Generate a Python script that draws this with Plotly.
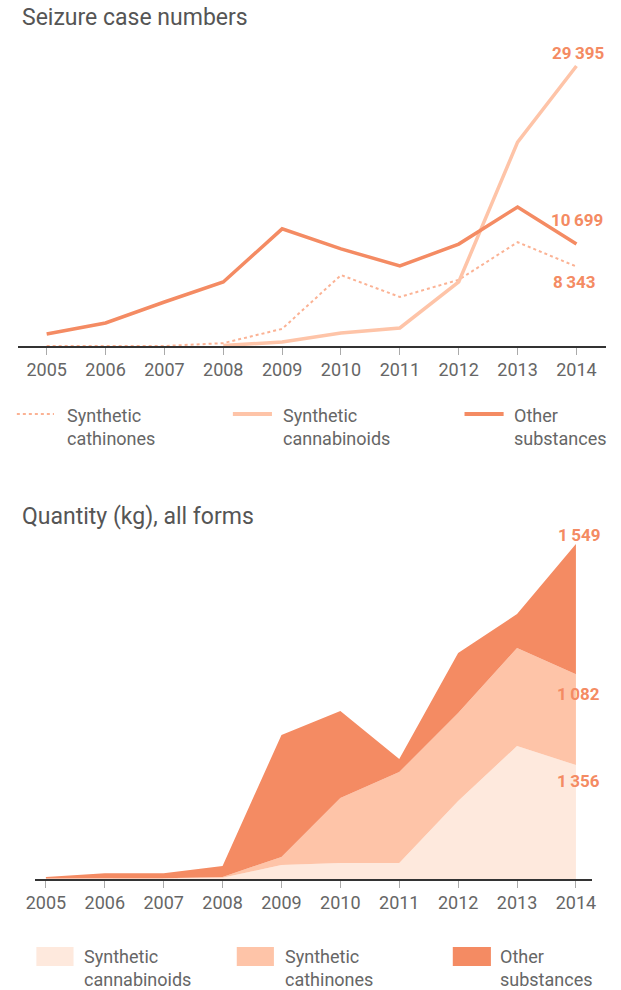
import plotly.graph_objects as go

years = [2005, 2006, 2007, 2008, 2009, 2010, 2011, 2012, 2013, 2014]

# Seizure case numbers
cases_cathinones = [0, 0, 0, 300, 1800, 7450, 5150, 6950, 10900, 8343]
cases_cannabinoids = [None, None, None, 50, 420, 1370, 1890, 6720, 21400, 29395]
cases_other = [1260, 2420, 4620, 6720, 12300, 10200, 8400, 10700, 14600, 10699]

# Quantity (kg)
qty_cannabinoids = [3, 5, 5, 15, 167, 190, 190, 928, 1583, 1356]
qty_cathinones = [2, 3, 3, 10, 95, 774, 1083, 1047, 1166, 1082]
qty_other = [20, 60, 60, 130, 1452, 1036, 155, 714, 405, 1549]

C_OTHER = "#F48B63"
C_CATH_LINE = "#FBB294"
C_CANN_LINE = "#FEC4A8"
C_LIGHT = "#FEE9DD"
C_MID = "#FEC4A8"
FONT = "Roboto"
W, H = 621, 990


def px_x(v):
    return v / W


def px_y(v):
    return 1 - v / H


fig = go.Figure()

# Top chart lines
fig.add_trace(go.Scatter(x=years, y=cases_cathinones, mode="lines",
                         line=dict(color=C_CATH_LINE, width=2, dash="dot"),
                         xaxis="x", yaxis="y", showlegend=False, hoverinfo="skip"))
fig.add_trace(go.Scatter(x=years, y=cases_cannabinoids, mode="lines",
                         line=dict(color=C_CANN_LINE, width=3.5),
                         xaxis="x", yaxis="y", showlegend=False, hoverinfo="skip"))
fig.add_trace(go.Scatter(x=years, y=cases_other, mode="lines",
                         line=dict(color=C_OTHER, width=3.5),
                         xaxis="x", yaxis="y", showlegend=False, hoverinfo="skip"))

# Bottom stacked areas
for vals, col in [(qty_cannabinoids, C_LIGHT), (qty_cathinones, C_MID), (qty_other, C_OTHER)]:
    fig.add_trace(go.Scatter(x=years, y=vals, mode="lines", stackgroup="q",
                             line=dict(width=0, color=col), fillcolor=col,
                             xaxis="x2", yaxis="y2", showlegend=False, hoverinfo="skip"))

tickfont = dict(family=FONT, size=18, color="#666666")
common_x = dict(tickmode="array", tickvals=years, ticktext=[str(y) for y in years],
                showgrid=False, zeroline=False, showline=True, linecolor="#333333",
                linewidth=1.5, ticks="outside", ticklen=7, tickcolor="#aaaaaa",
                tickfont=tickfont, fixedrange=True)
common_y = dict(visible=False, showgrid=False, zeroline=False, fixedrange=True)

top_y0, top_y1 = 346, 50
bot_y0, bot_y1 = 879, 530
case_scale = 105.0
qty_scale = 11.9

fig.update_layout(
    width=W, height=H,
    margin=dict(l=0, r=0, t=0, b=0),
    paper_bgcolor="white", plot_bgcolor="white",
    xaxis=dict(domain=[px_x(8), px_x(610)], range=[2004.51, 2014.506], anchor="y", **common_x),
    yaxis=dict(domain=[px_y(top_y0), px_y(top_y1)], range=[0, (top_y0 - top_y1) * case_scale], anchor="x", **common_y),
    xaxis2=dict(domain=[px_x(26), px_x(595)], range=[2004.822, 2014.266], anchor="y2", **common_x),
    yaxis2=dict(domain=[px_y(bot_y0), px_y(bot_y1)], range=[0, (bot_y0 - bot_y1) * qty_scale], anchor="x2", **common_y),
    showlegend=False,
)

ann = []
# Titles
titlefont = dict(family=FONT, size=23, color="#555555")
ann.append(dict(text="Seizure case numbers", x=px_x(10), y=px_y(17), xref="paper", yref="paper",
                xanchor="left", yanchor="middle", showarrow=False, font=titlefont))
ann.append(dict(text="Quantity (kg), all forms", x=px_x(10), y=px_y(516), xref="paper", yref="paper",
                xanchor="left", yanchor="middle", showarrow=False, font=titlefont))

numfont = dict(family=FONT, size=17, color=C_OTHER, weight="bold")
# Top end labels
ann.append(dict(text="29\u2009395", x=2014, y=cases_cannabinoids[-1], xref="x", yref="y",
                xshift=2, yshift=13, xanchor="center", yanchor="middle", showarrow=False, font=numfont))
ann.append(dict(text="10\u2009699", x=2014, y=cases_other[-1], xref="x", yref="y",
                xshift=1, yshift=24, xanchor="center", yanchor="middle", showarrow=False, font=numfont))
ann.append(dict(text="8\u2009343", x=2014, y=cases_cathinones[-1], xref="x", yref="y",
                xshift=-2, yshift=-15, xanchor="center", yanchor="middle", showarrow=False, font=numfont))

# Bottom end labels
tot_cann = qty_cannabinoids[-1]
tot_cath = tot_cann + qty_cathinones[-1]
tot_all = tot_cath + qty_other[-1]
ann.append(dict(text="1\u2009549", x=2014, y=tot_all, xref="x2", yref="y2",
                xshift=3, yshift=9, xanchor="center", yanchor="middle", showarrow=False, font=numfont))
ann.append(dict(text="1\u2009082", x=2014, y=tot_cath, xref="x2", yref="y2",
                xshift=3, yshift=-20, xanchor="center", yanchor="middle", showarrow=False, font=numfont))
ann.append(dict(text="1\u2009356", x=2014, y=tot_cann, xref="x2", yref="y2",
                xshift=3, yshift=-16, xanchor="center", yanchor="middle", showarrow=False, font=numfont))

legfont = dict(family=FONT, size=18, color="#666666")
shapes = []
# Top legend
top_leg = [
    (7, 45, 56, "Synthetic<br>cathinones", dict(color=C_CATH_LINE, width=2, dash="dot")),
    (228, 268, 277, "Synthetic<br>cannabinoids", dict(color=C_CANN_LINE, width=4)),
    (465, 505, 514, "Other<br>substances", dict(color=C_OTHER, width=4)),
]
for x0, x1, tx, label, line in top_leg:
    shapes.append(dict(type="line", xref="paper", yref="paper", x0=px_x(x0), x1=px_x(x1),
                       y0=px_y(414), y1=px_y(414), line=line))
    ann.append(dict(text=label, x=px_x(tx), y=px_y(403), xref="paper", yref="paper",
                    xanchor="left", yanchor="top", align="left", showarrow=False, font=legfont))

# Bottom legend
bot_leg = [
    (27, 65, 74, "Synthetic<br>cannabinoids", C_LIGHT),
    (232, 270, 279, "Synthetic<br>cathinones", C_MID),
    (453, 492, 499, "Other<br>substances", C_OTHER),
]
for x0, x1, tx, label, col in bot_leg:
    shapes.append(dict(type="rect", xref="paper", yref="paper", x0=px_x(x0), x1=px_x(x1),
                       y0=px_y(966), y1=px_y(947), line=dict(width=0), fillcolor=col))
    ann.append(dict(text=label, x=px_x(tx), y=px_y(944), xref="paper", yref="paper",
                    xanchor="left", yanchor="top", align="left", showarrow=False, font=legfont))

fig.update_layout(annotations=ann, shapes=shapes)

fig.write_html("out.html", config={"displayModeBar": False},
               post_script="document.body.style.margin='0';document.body.style.overflow='hidden';")
